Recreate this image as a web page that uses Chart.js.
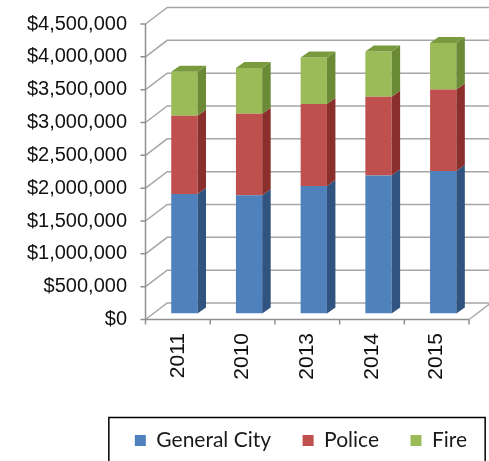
<!DOCTYPE html>
<html>
<head>
<meta charset="utf-8">
<script src="https://cdn.jsdelivr.net/npm/chart.js@4.4.1/dist/chart.umd.min.js"></script>
<style>
  html, body { margin: 0; padding: 0; background: #fff; }
  #wrap { width: 489px; height: 461px; }
</style>
</head>
<body>
<div id="wrap"><canvas id="chart" width="489" height="461"></canvas></div>
<script>
// budget by year (dollars)
const years = ["2011", "2010", "2013", "2014", "2015"];
const generalCity = [1820000, 1800000, 1940000, 2100000, 2170000];
const police = [1190000, 1240000, 1250000, 1200000, 1240000];
const fire = [670000, 700000, 710000, 690000, 710000];

const yMax = 4500000;
const yStep = 500000;

// fake 3d: walls sit in front of / behind the bar faces
const FRONT = { dx: -6.5, dy: 6 };
const WALL = { dx: 21.7, dy: -16.5 };
const BAR_DEPTH = { dx: 8.5, dy: -6 };
const LEGEND_SHIFT = 62;

const money = (v) => "$" + Number(v).toLocaleString("en-US");

const walls = {
  id: "walls",
  beforeDatasetsDraw(chart) {
    const { ctx, chartArea: a, scales: { y } } = chart;
    const fx = a.left + FRONT.dx;
    const rx = a.right + FRONT.dx;
    const y0 = y.getPixelForValue(0) + FRONT.dy;
    const yTop = y.getPixelForValue(yMax) + FRONT.dy;

    ctx.save();
    ctx.lineWidth = 1.5;
    ctx.strokeStyle = "#a6a6a6";
    // side wall diagonals + back wall gridlines
    y.ticks.forEach((t) => {
      const py = y.getPixelForValue(t.value) + FRONT.dy;
      ctx.beginPath();
      ctx.moveTo(fx, py);
      ctx.lineTo(fx + WALL.dx, py + WALL.dy);
      ctx.lineTo(rx + WALL.dx + 20, py + WALL.dy);
      ctx.stroke();
    });
    // floor, right side
    ctx.beginPath();
    ctx.moveTo(rx, y0);
    ctx.lineTo(rx + WALL.dx, y0 + WALL.dy);
    ctx.stroke();

    // front axis lines and tick marks
    ctx.strokeStyle = "#8f8f8f";
    ctx.beginPath();
    ctx.moveTo(fx, yTop);
    ctx.lineTo(fx, y0);
    ctx.lineTo(rx, y0);
    y.ticks.forEach((t) => {
      const py = y.getPixelForValue(t.value) + FRONT.dy;
      ctx.moveTo(fx - 5, py);
      ctx.lineTo(fx, py);
    });
    const n = years.length;
    for (let i = 0; i <= n; i++) {
      const px = fx + (i * (rx - fx)) / n;
      ctx.moveTo(px, y0);
      ctx.lineTo(px, y0 + 5);
    }
    ctx.stroke();
    ctx.restore();
  },
  afterDatasetsDraw(chart) {
    const { ctx } = chart;
    const metas = chart.getSortedVisibleDatasetMetas();
    ctx.save();
    metas.forEach((meta, k) => {
      const ds = chart.data.datasets[meta.index];
      meta.data.forEach((bar) => {
        const { x, y, base, width } = bar.getProps(["x", "y", "base", "width"], true);
        const l = x - width / 2;
        const r = x + width / 2;
        // right side
        ctx.fillStyle = ds.sideColor;
        ctx.beginPath();
        ctx.moveTo(r, y);
        ctx.lineTo(r + BAR_DEPTH.dx, y + BAR_DEPTH.dy);
        ctx.lineTo(r + BAR_DEPTH.dx, base + BAR_DEPTH.dy);
        ctx.lineTo(r, base);
        ctx.closePath();
        ctx.fill();
        // lid on the top segment only
        if (k === metas.length - 1) {
          ctx.fillStyle = ds.topColor;
          ctx.beginPath();
          ctx.moveTo(l, y);
          ctx.lineTo(l + BAR_DEPTH.dx, y + BAR_DEPTH.dy);
          ctx.lineTo(r + BAR_DEPTH.dx, y + BAR_DEPTH.dy);
          ctx.lineTo(r, y);
          ctx.closePath();
          ctx.fill();
        }
      });
    });
    ctx.restore();
  },
};

const legendFrame = {
  id: "legendFrame",
  afterLayout(chart) {
    chart.legend.left += LEGEND_SHIFT;
    chart.legend.right += LEGEND_SHIFT;
  },
  afterDraw(chart) {
    const boxes = chart.legend.legendHitBoxes;
    if (!boxes.length) return;
    const first = boxes[0];
    const last = boxes[boxes.length - 1];
    const left = first.left - 26;
    const right = last.left + last.width + 18;
    const top = first.top - 12.5;
    const { ctx } = chart;
    ctx.save();
    ctx.strokeStyle = "#000";
    ctx.lineWidth = 1.5;
    ctx.strokeRect(left, top, right - left, 60);
    ctx.restore();
  },
};

new Chart(document.getElementById("chart"), {
  type: "bar",
  data: {
    labels: years,
    datasets: [
      { label: "General City", data: generalCity, backgroundColor: "#4f81bd", sideColor: "#30537f", topColor: "#3f6a9c" },
      { label: "Police", data: police, backgroundColor: "#c0504d", sideColor: "#8b2f2d", topColor: "#a03c3a" },
      { label: "Fire", data: fire, backgroundColor: "#9bbb59", sideColor: "#6b8a35", topColor: "#7a9a3e" },
    ],
  },
  options: {
    responsive: false,
    animation: false,
    devicePixelRatio: 1,
    layout: { padding: { top: 18, right: 11, left: 0, bottom: 0 } },
    datasets: { bar: { barPercentage: 0.406, categoryPercentage: 1, borderWidth: 0 } },
    plugins: {
      tooltip: { enabled: false },
      legend: {
        position: "bottom",
        labels: {
          boxWidth: 11,
          boxHeight: 11,
          padding: 31.5,
          color: "#1a1a1a",
          font: { family: "Lato, sans-serif", size: 21, lineHeight: 1 },
        },
      },
    },
    scales: {
      x: {
        stacked: true,
        grid: { display: false, drawTicks: false },
        border: { display: false },
        ticks: {
          minRotation: 90,
          maxRotation: 90,
          labelOffset: FRONT.dx,
          padding: 19.5,
          color: "#111",
          font: { family: "'Liberation Sans', Arial, sans-serif", size: 21 },
        },
        afterFit: (s) => { s.height = 85; },
      },
      y: {
        stacked: true,
        min: 0,
        max: yMax,
        grid: { display: false, drawTicks: false },
        border: { display: false },
        ticks: {
          stepSize: yStep,
          labelOffset: FRONT.dy,
          padding: 25,
          color: "#111",
          font: { family: "'Liberation Sans', Arial, sans-serif", size: 20 },
          callback: money,
        },
        afterFit: (s) => {
          s.width = 152;
          // the tick padding is only horizontal here
          s.paddingTop = 0;
          s.paddingBottom = 0;
        },
      },
    },
  },
  plugins: [walls, legendFrame],
});
</script>
</body>
</html>
